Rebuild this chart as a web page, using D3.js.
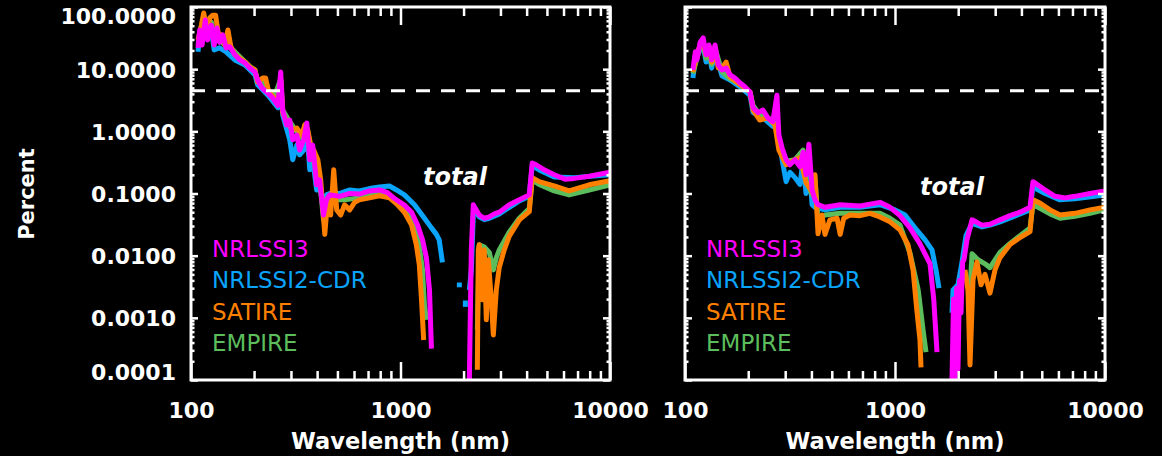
<!DOCTYPE html>
<html>
<head>
<meta charset="utf-8">
<script src="https://cdn.jsdelivr.net/npm/d3@7"></script>
<style>
  html, body { margin: 0; background: #000; }
  svg { display: block; }
</style>
</head>
<body>
<div class="main-container"></div>
<script>
const seriesNames = ["NRLSSI3", "NRLSSI2-CDR", "SATIRE", "EMPIRE"];
const seriesColors = ["#ff00ff", "#0aa4fa", "#ff8000", "#5cbd5c"];
const xTicks = [100, 1000, 10000];
const xTickLabels = ["100", "1000", "10000"];
const yTicks = [100, 10, 1, 0.1, 0.01, 0.001, 0.0001];
const yTickLabels = ["100.0000", "10.0000", "1.0000", "0.1000", "0.0100", "0.0010", "0.0001"];
const thresholdPercent = 4.5;
const annotation = "total";

// each series: list of segments, each segment a list of [wavelength nm, percent]
const leftNrlssi3 = [
  [[108,22],[110,42.7],[113,24.5],[117,61.8],[120,29.5],[125,51],[129,24.5],[133,46],[137,27],[142,35.5],[147,22],[153,23],[162,17],[171,14.1],[181,12.6],[191,10.4],[202,9.0],[208,6.7],[218,5.0],[233,4.1],[246,3.4],[260,2.6],[268,9.0],[274,2.2],[286,1.27],[296,1.52],[306,0.73],[320,0.87],[330,0.50],[345,0.73],[357,1.36],[369,0.35],[381,0.6],[398,0.138],[411,0.166],[429,0.045],[443,0.079],[459,0.095],[511,0.09],[572,0.10],[636,0.098],[711,0.11],[794,0.114],[868,0.103],[936,0.083],[1044,0.065],[1130,0.05],[1207,0.031],[1274,0.018],[1330,0.0092],[1375,0.0028],[1405,0.00032]],
  [[2131,0.0001],[2178,0.0124],[2226,0.066],[2300,0.0545],[2377,0.045],[2512,0.040],[2654,0.042],[2804,0.047],[2962,0.05],[3306,0.066],[3690,0.079],[4117,0.095],[4253,0.31],[4442,0.29],[4850,0.24],[5413,0.2],[6100,0.17],[6742,0.175],[7950,0.19],[10000,0.22]]
];
const leftNrlssi2 = [
  [[108,19],[110,35],[117,50],[125,42.7],[129,20.4],[137,22],[147,19],[162,14.1],[181,11.7],[202,8.1],[208,5.6],[233,3.8],[260,2.4],[268,4.6],[274,1.83],[296,0.73],[306,0.35],[320,0.6],[330,0.42],[345,0.5],[357,1.05],[369,0.24],[381,0.35],[398,0.114],[411,0.14],[429,0.055],[443,0.095],[459,0.1],[511,0.1],[572,0.114],[636,0.11],[711,0.12],[794,0.127],[886,0.132],[957,0.114],[1044,0.095],[1166,0.066],[1301,0.04],[1405,0.028],[1484,0.022],[1530,0.018],[1585,0.0078]],
  [[1910,0.0037],[1910,0.0031]],
  [[2040,0.0019],[2040,0.0015]],
  [[2131,0.0028],[2178,0.0059],[2226,0.045],[2300,0.05],[2377,0.042],[2512,0.038],[2654,0.04],[2962,0.047],[3306,0.06],[3690,0.076],[4117,0.09],[4253,0.28],[4590,0.24],[5413,0.185],[6742,0.18],[10000,0.2]]
];
const leftSatire = [
  [[108,29.5],[112,51],[115,80],[119,42.7],[123,67],[127,74],[131,74],[136,32],[140,35.5],[145,24.5],[150,42.7],[155,23],[162,17],[181,13],[191,10.9],[202,9.7],[208,6.2],[220,7.2],[227,7.2],[235,4.3],[251,3.4],[262,3.2],[268,6.7],[274,2.0],[286,1.43],[306,1.05],[320,1.13],[338,0.87],[349,1.27],[361,1.05],[373,0.6],[385,0.5],[403,0.35],[416,0.166],[435,0.022],[449,0.079],[464,0.045],[480,0.24],[496,0.0545],[518,0.045],[541,0.066],[572,0.0545],[604,0.072],[636,0.079],[711,0.085],[794,0.092],[886,0.085],[967,0.066],[1044,0.05],[1130,0.031],[1190,0.015],[1230,0.0071],[1260,0.00195],[1290,0.00044]],
  [[2327,0.000146],[2352,0.0124],[2377,0.015],[2456,0.00195],[2512,0.0124],[2568,0.00093],[2626,0.0086],[2713,0.00195],[2774,0.00053],[2866,0.0028],[2962,0.0065],[3128,0.0124],[3306,0.0206],[3690,0.0377],[4117,0.051],[4253,0.18],[4590,0.155],[5413,0.133],[6380,0.11],[7950,0.138],[10000,0.16]]
];
const leftEmpire = [
  [[108,24.5],[113,46],[117,57],[120,35.5],[125,57],[130,32],[137,29.5],[147,23.5],[155,22],[171,15.8],[191,11],[202,9.7],[208,6.2],[220,6.7],[233,4.6],[251,3.7],[268,7],[274,2.2],[296,1.43],[320,0.98],[338,0.78],[357,1.13],[373,0.5],[389,0.28],[411,0.166],[429,0.0377],[449,0.079],[485,0.079],[541,0.079],[636,0.085],[794,0.1],[906,0.089],[989,0.07],[1104,0.05],[1207,0.022],[1274,0.0059],[1301,0.0016],[1330,0.00093]],
  [[2327,0.00064],[2377,0.015],[2512,0.0138],[2654,0.0113],[2774,0.0059],[2866,0.0093],[2962,0.0124],[3306,0.024],[3690,0.04],[4117,0.057],[4253,0.166],[4590,0.14],[5413,0.11],[6380,0.095],[7950,0.114],[10000,0.138]]
];

const rightNrlssi3 = [
  [[109,9.7],[112,19],[114,14.1],[118,27],[122,32],[126,17],[130,24.5],[134,14.1],[139,24.5],[144,11.7],[150,9.7],[157,10.4],[164,8.1],[173,7.2],[183,6.0],[193,5.2],[204,4.3],[211,2.4],[223,2.0],[235,2.2],[248,1.65],[262,1.43],[274,3.8],[280,0.87],[290,0.54],[303,0.35],[316,0.29],[334,0.35],[353,0.27],[365,0.46],[377,0.2],[389,0.62],[403,0.114],[416,0.079],[430,0.066],[464,0.06],[548,0.066],[681,0.063],[848,0.072],[947,0.06],[1056,0.044],[1179,0.028],[1315,0.0155],[1468,0.0074],[1530,0.00195],[1585,0.00028]],
  [[1868,0.0001],[1900,0.002],[1931,0.0001],[1965,0.003],[1995,0.00015],[2030,0.004],[2062,0.0012],[2100,0.008],[2131,0.0086],[2201,0.018],[2327,0.0377],[2431,0.035],[2595,0.031],[2834,0.032],[3162,0.0377],[3529,0.044],[3939,0.05],[4394,0.06],[4539,0.155],[4745,0.14],[5179,0.114],[5780,0.09],[6449,0.085],[7197,0.09],[8483,0.1],[10000,0.11]]
];
const rightNrlssi2 = [
  [[109,7.2],[112,14.1],[118,20.4],[122,24.5],[126,13],[130,19],[134,10.4],[139,19],[150,7.8],[164,6.7],[183,5.2],[204,3.8],[211,2.0],[235,1.66],[262,1.2],[274,2.2],[280,0.73],[290,0.35],[303,0.155],[316,0.22],[334,0.18],[353,0.14],[365,0.35],[377,0.1],[389,0.29],[403,0.066],[416,0.06],[464,0.0545],[548,0.06],[681,0.06],[848,0.066],[1000,0.0545],[1116,0.045],[1245,0.028],[1390,0.018],[1500,0.0124],[1568,0.0059],[1620,0.003]],
  [[1868,0.0012],[1889,0.0028],[1995,0.0034],[2085,0.0079],[2178,0.021],[2327,0.033],[2595,0.029],[2834,0.031],[3162,0.035],[3939,0.047],[4394,0.0545],[4539,0.127],[5179,0.1],[6105,0.079],[7197,0.082],[10000,0.095]]
];
const rightSatire = [
  [[109,9.0],[114,17],[118,24.5],[122,27],[126,17],[130,22.5],[134,13],[139,20.4],[144,10.4],[150,10.4],[157,13],[164,7.5],[183,5.6],[204,4.3],[211,2.2],[227,1.52],[248,1.65],[268,1.27],[280,0.5],[303,0.29],[334,0.35],[353,0.38],[377,0.15],[403,0.106],[416,0.2],[430,0.0225],[449,0.045],[464,0.022],[490,0.0377],[530,0.04],[548,0.022],[570,0.04],[610,0.045],[681,0.044],[760,0.048],[848,0.042],[947,0.035],[1056,0.026],[1153,0.015],[1219,0.0059],[1270,0.00135],[1315,0.00044],[1330,0.00016]],
  [[2154,0.0059],[2226,0.0028],[2276,0.000175],[2352,0.0041],[2456,0.0079],[2568,0.0034],[2683,0.005],[2834,0.0025],[2993,0.0059],[3162,0.0093],[3529,0.0151],[3939,0.0196],[4394,0.0243],[4539,0.079],[4903,0.07],[5472,0.0545],[6105,0.045],[7197,0.048],[8483,0.0545],[10000,0.06]]
];
const rightEmpire = [
  [[109,8.5],[114,15],[118,23],[122,25],[126,15],[130,23.5],[134,12],[139,22],[150,9],[164,7],[183,5.8],[204,4.3],[211,2.6],[227,1.83],[248,1.65],[268,1.36],[280,0.6],[303,0.33],[334,0.35],[365,0.5],[377,0.166],[403,0.095],[416,0.166],[430,0.0377],[464,0.045],[548,0.048],[681,0.048],[848,0.048],[947,0.04],[1056,0.031],[1179,0.011],[1290,0.0028],[1360,0.00064],[1405,0.00028]],
  [[2276,0.0028],[2327,0.0107],[2484,0.0086],[2683,0.0074],[2834,0.0064],[3162,0.0113],[3529,0.0157],[3939,0.021],[4394,0.0278],[4539,0.066],[4903,0.058],[5472,0.047],[6105,0.04],[7197,0.043],[8483,0.048],[10000,0.055]]
];

const width = 1162;
const height = 456;
const yTop = 7;
const yBottom = 380;
const font = "'DejaVu Sans', sans-serif";

const svg = d3.select(".main-container")
  .append("svg")
  .attr("width", width)
  .attr("height", height)
  .style("background", "#000");

const panels = [
  { x0: 191, x1: 610, series: [leftNrlssi3, leftNrlssi2, leftSatire, leftEmpire], total: [423, 185], labels: true, id: "l" },
  { x0: 685, x1: 1105, series: [rightNrlssi3, rightNrlssi2, rightSatire, rightEmpire], total: [920, 195], labels: false, id: "r" }
];

// blue, green, orange, then magenta on top
const drawOrder = [1, 3, 2, 0];

const minorX = [100, 1000].flatMap(b => d3.range(2, 10).map(m => m * b));
const minorY = [-4, -3, -2, -1, 0, 1].flatMap(e => d3.range(2, 10).map(m => m * Math.pow(10, e)));

function styleAxis(sel) {
  sel.select(".domain").remove();
  sel.selectAll("line").attr("stroke", "#fff").attr("stroke-width", 2.5);
  sel.selectAll("text").attr("fill", "#fff")
    .style("font-family", font).style("font-weight", "bold").style("font-size", "22px");
}

panels.forEach(p => {
  const x = d3.scaleLog().domain([100, 10000]).range([p.x0, p.x1]);
  const y = d3.scaleLog().domain([0.0001, 100]).range([yBottom, yTop]);
  const g = svg.append("g");

  g.append("clipPath").attr("id", "clip-" + p.id)
    .append("rect")
    .attr("x", p.x0).attr("y", yTop)
    .attr("width", p.x1 - p.x0).attr("height", yBottom - yTop);

  const line = d3.line().x(d => x(d[0])).y(d => y(d[1]));
  const lines = g.append("g").attr("clip-path", "url(#clip-" + p.id + ")");
  drawOrder.forEach(i => {
    lines.selectAll(null)
      .data(p.series[i])
      .enter()
      .append("path")
      .attr("d", line)
      .attr("fill", "none")
      .attr("stroke", seriesColors[i])
      .attr("stroke-width", 5)
      .attr("stroke-linejoin", "round")
      .attr("stroke-linecap", "butt");
  });

  // dashed reference level
  g.append("line")
    .attr("x1", p.x0).attr("x2", p.x1)
    .attr("y1", y(thresholdPercent)).attr("y2", y(thresholdPercent))
    .attr("stroke", "#fff").attr("stroke-width", 3)
    .attr("stroke-dasharray", "14,11");

  // axes, ticks inward
  const bottom = g.append("g").attr("transform", `translate(0,${yBottom})`)
    .call(d3.axisBottom(x).tickValues(xTicks).tickSize(-18).tickPadding(22)
      .tickFormat(d => xTickLabels[xTicks.indexOf(d)]));
  styleAxis(bottom);
  styleAxis(g.append("g").attr("transform", `translate(0,${yBottom})`)
    .call(d3.axisBottom(x).tickValues(minorX).tickSize(-9).tickFormat("")));
  styleAxis(g.append("g").attr("transform", `translate(0,${yTop})`)
    .call(d3.axisTop(x).tickValues(xTicks).tickSize(-18).tickFormat("")));
  styleAxis(g.append("g").attr("transform", `translate(0,${yTop})`)
    .call(d3.axisTop(x).tickValues(minorX).tickSize(-9).tickFormat("")));

  const left = g.append("g").attr("transform", `translate(${p.x0},0)`)
    .call(d3.axisLeft(y).tickValues(yTicks).tickSize(-7).tickPadding(15)
      .tickFormat(d => p.labels ? yTickLabels[yTicks.indexOf(d)] : ""));
  styleAxis(left);
  // keep end labels inside the axis range
  left.selectAll("text").attr("dy", d => d === 100 ? "0.77em" : d === 0.0001 ? "-0.04em" : "0.36em");
  styleAxis(g.append("g").attr("transform", `translate(${p.x0},0)`)
    .call(d3.axisLeft(y).tickValues(minorY).tickSize(-3.5).tickFormat("")));
  styleAxis(g.append("g").attr("transform", `translate(${p.x1},0)`)
    .call(d3.axisRight(y).tickValues(yTicks).tickSize(-7).tickFormat("")));
  styleAxis(g.append("g").attr("transform", `translate(${p.x1},0)`)
    .call(d3.axisRight(y).tickValues(minorY).tickSize(-3.5).tickFormat("")));

  g.append("rect")
    .attr("x", p.x0).attr("y", yTop)
    .attr("width", p.x1 - p.x0).attr("height", yBottom - yTop)
    .attr("fill", "none").attr("stroke", "#fff").attr("stroke-width", 3);

  // legend
  seriesNames.forEach((name, i) => {
    g.append("text")
      .attr("x", p.x0 + 21)
      .attr("y", 257 + i * 31.3)
      .attr("fill", seriesColors[i])
      .style("font-family", font)
      .style("font-size", "23px")
      .style("font-weight", 500)
      .text(name);
  });

  g.append("text")
    .attr("x", p.total[0]).attr("y", p.total[1])
    .attr("fill", "#fff")
    .style("font-family", font).style("font-weight", "bold")
    .style("font-style", "italic").style("font-size", "24px")
    .text(annotation);

  g.append("text")
    .attr("x", (p.x0 + p.x1) / 2).attr("y", 449)
    .attr("text-anchor", "middle")
    .attr("fill", "#fff")
    .style("font-family", font).style("font-weight", "bold").style("font-size", "22.5px")
    .text("Wavelength (nm)");
});

svg.append("text")
  .attr("transform", "translate(34,194) rotate(-90)")
  .attr("text-anchor", "middle")
  .attr("fill", "#fff")
  .style("font-family", font).style("font-weight", "bold").style("font-size", "21px")
  .text("Percent");
</script>
</body>
</html>
